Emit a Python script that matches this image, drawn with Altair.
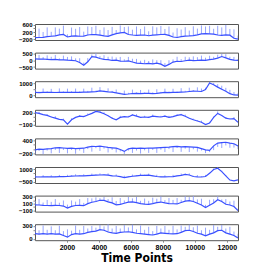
import altair as alt
import pandas as pd

# time points of the sampled trace (every 254 samples, 0 .. 12700)
time_points = list(range(0, 12701, 254))

base_1 = [-120, -110, -100, -60, -40, -20, 40, 60, -80, -30,
          -20, -40, -30, 30, 60, 50, 20, -20, -40, 40,
          110, 150, 180, 60, 30, 10, 20, 30, -10, 20,
          40, 60, 70, 10, -80, -110, -60, -30, -20, 0,
          40, 90, 110, 100, 80, 30, 10, 40, 20, -150,
          -200]
spike_1 = [0, 500, 300, 520, 250, 480, 350, 500, 150, 480,
           400, 520, 250, 480, 420, 500, 300, 480, 350, 450,
           200, 420, 300, 450, 300, 500, 350, 480, 250, 500,
           420, 480, 300, 500, 250, 520, 400, 500, 300, 520,
           350, 480, 400, 450, 300, 520, 450, 560, 350, 500,
           200]

base_2 = [120, 100, 110, 90, 60, 80, 40, 50, 20, 10,
          -20, -150, -360, -100, 300, 250, 150, 80, 60, 0,
          30, -50, -60, -30, -120, -200, -220, -250, -220, -260,
          -200, -280, -450, -300, -120, -60, -80, -20, 20, -10,
          0, 30, 10, 60, 100, 180, 300, 200, 80, 20,
          0]
spike_2 = [200, 320, 150, 300, 220, 340, 120, 320, 250, 300,
           180, 320, 200, 280, 150, 300, 180, 320, 220, 300,
           200, 320, 150, 300, 250, 320, 200, 300, 180, 340,
           220, 300, 250, 320, 200, 340, 180, 300, 220, 320,
           250, 340, 200, 300, 180, 260, 200, 280, 200, 250,
           100]

base_3 = [250, 240, 260, 250, 255, 245, 250, 260, 250, 255,
          250, 260, 270, 280, 300, 320, 380, 340, 300, 280,
          220, 150, 90, 120, 160, 170, 160, 180, 170, 160,
          180, 220, 250, 240, 260, 250, 270, 290, 330, 360,
          350, 330, 500, 1050, 900, 700, 520, 360, 150, 40,
          30]
spike_3 = [300, 80, 320, 100, 300, 60, 340, 80, 320, 100,
           330, 80, 300, 100, 350, 80, 320, 60, 300, 100,
           280, 80, 320, 100, 330, 80, 300, 60, 320, 100,
           340, 80, 320, 100, 300, 80, 340, 100, 320, 80,
           330, 250, 150, 100, 150, 250, 300, 280, 320, 250,
           150]

base_4 = [200, 180, 150, 130, 90, 60, 30, 20, -90, 20,
          80, 110, 100, 140, 180, 230, 210, 170, 120, 60,
          20, 80, 100, 90, 140, 110, 80, 90, 80, 110,
          100, 90, 110, 80, 100, 130, 150, 110, 60, 20,
          -10, -40, -100, -60, 80, 180, 130, 60, 40, 50,
          -40]
spike_4 = [20, 40, 10, 30, 20, 50, 10, 30, 20, 40,
           10, 30, 20, 40, 10, 30, 20, 40, 10, 30,
           20, 40, 10, 30, 20, 50, 10, 30, 20, 40,
           10, 30, 20, 40, 10, 30, 20, 40, 10, 30,
           20, 40, 10, 30, 20, 50, 10, 30, 20, 40,
           10]

base_5 = [-40, 0, -10, 10, 20, 60, 70, 50, 30, 40,
          20, 30, 40, 90, 130, 120, 140, 110, 80, 60,
          40, -20, -110, 10, 40, 30, 40, 30, 50, 40,
          60, 70, 80, 90, 110, 130, 100, 110, 100, 90,
          80, 20, -40, -60, 150, 280, 300, 320, 280, 250,
          150]
spike_5 = [-200, -90, -240, -80, -220, -100, -250, -90, -230, -80,
           -240, -100, -220, -90, -250, -80, -230, -90, -240, -100,
           -200, -90, -120, -80, -220, -100, -250, -90, -230, -80,
           -240, -100, -220, -90, -250, -80, -230, -90, -240, -100,
           -200, -90, -150, -80, -200, -180, -250, -150, -220, -180,
           -150]

base_6 = [70, 60, 80, 70, 90, 80, 100, 110, 120, 170,
          180, 190, 200, 220, 250, 280, 300, 310, 290, 200,
          180, 100, 0, 80, 150, 200, 260, 260, 280, 200,
          120, 80, 70, 90, 110, 200, 260, 370, 300, 120,
          80, 60, 120, 500, 950, 1100, 700, 200, -300, -400,
          -280]
spike_6 = [180, 80, 200, 60, 190, 90, 210, 80, 200, 90,
           210, 60, 190, 90, 220, 80, 200, 60, 210, 90,
           190, 80, 210, 60, 200, 90, 210, 80, 190, 90,
           210, 60, 200, 90, 210, 80, 220, 90, 200, 80,
           210, 90, 190, 80, 120, 100, 120, 80, 60, 50,
           40]

base_7 = [65, 60, 50, 45, 40, 50, 45, 30, -30, 20,
          45, 50, 40, 100, 140, 160, 195, 190, 150, 120,
          65, 80, 110, 140, 150, 130, 100, 85, 80, 100,
          130, 145, 120, 100, 95, 90, 130, 170, 185, 160,
          110, 60, -15, 50, 115, 210, 160, 80, 60, 15,
          -100]
spike_7 = [110, 170, 80, 160, 110, 180, 80, 160, 100, 170,
           110, 180, 80, 160, 110, 120, 60, 100, 80, 160,
           110, 180, 80, 150, 100, 160, 80, 160, 100, 170,
           110, 160, 80, 160, 110, 170, 80, 140, 100, 160,
           110, 180, 80, 160, 110, 100, 60, 150, 100, 170,
           60]

base_8 = [120, 110, 120, 110, 120, 110, 115, 80, 40, 100,
          120, 110, 120, 150, 170, 180, 215, 200, 160, 140,
          130, 150, 160, 165, 150, 130, 120, 110, 100, 90,
          110, 140, 130, 120, 115, 120, 150, 190, 200, 170,
          130, 110, 70, 110, 140, 190, 200, 140, 110, 80,
          20]
spike_8 = [180, 90, 190, 100, 170, 90, 190, 100, 180, 90,
           190, 100, 180, 90, 130, 80, 110, 90, 190, 100,
           170, 90, 160, 100, 180, 90, 190, 100, 180, 90,
           190, 100, 170, 90, 190, 100, 160, 90, 130, 100,
           180, 90, 190, 100, 180, 90, 120, 100, 170, 90,
           100]

y_domains = [[-250, 650], [-620, 600], [-150, 1200], [-130, 270],
             [-250, 500], [-650, 1250], [-130, 330], [-30, 340]]
y_ticks = [[-200, 0, 200, 400, 600], [-500, 0, 500], [0, 500, 1000],
           [-100, 0, 100, 200], [-200, 0, 200, 400], [-500, 0, 500, 1000],
           [-100, 0, 100, 200, 300], [0, 100, 200, 300]]
x_ticks = [2000, 4000, 6000, 8000, 10000, 12000]

bases = [base_1, base_2, base_3, base_4, base_5, base_6, base_7, base_8]
spikes = [spike_1, spike_2, spike_3, spike_4, spike_5, spike_6, spike_7, spike_8]

LINE = "#3a50ff"
SPIKE = "#8a9bff"
FONT = "Liberation Sans"
NARROW = "'Liberation Sans Narrow', 'DejaVu Sans Condensed', 'Liberation Sans', sans-serif"

panels = []
for k in range(8):
    df = pd.DataFrame({"t": time_points, "v": bases[k]})
    df["top"] = [b + s for b, s in zip(bases[k], spikes[k])]
    last = k == 7
    if last:
        xaxis = alt.Axis(values=x_ticks, format="d", title="Time Points", grid=False,
                         labelFontSize=7, labelFontWeight="bold", labelFont=FONT,
                         labelPadding=1, tickSize=2, domain=False,
                         titleFont=NARROW, titleFontSize=12,
                         titleFontWeight="bold", titlePadding=2, labelColor="#000",
                         titleColor="#000")
    else:
        xaxis = None
    x = alt.X("t:Q", scale=alt.Scale(domain=[0, 12700], nice=False, zero=False), axis=xaxis)
    yaxis = alt.Axis(values=y_ticks[k], format="d", title=None, grid=False, labelFontSize=6,
                     labelFontWeight="bold", labelFont=FONT, labelPadding=1,
                     tickSize=2, domain=False, labelColor="#000",
                     minExtent=22, maxExtent=22)
    y = alt.Y("v:Q", scale=alt.Scale(domain=y_domains[k], nice=False, zero=False), axis=yaxis)
    rules = alt.Chart(df).mark_rule(color=SPIKE, strokeWidth=0.9, clip=True).encode(
        x=x, y=y, y2="top:Q")
    line = alt.Chart(df).mark_line(color=LINE, strokeWidth=1.2, clip=True).encode(x=x, y=y)
    panels.append(alt.layer(rules, line).properties(width=203, height=16))

chart = alt.vconcat(*panels, spacing=12.6, bounds="flush").properties(
    padding={"left": 4, "top": 13, "right": 5, "bottom": 2}
).configure_view(stroke="#555", strokeWidth=1)

chart.save("out.html", embed_options={"renderer": "svg", "actions": False})
